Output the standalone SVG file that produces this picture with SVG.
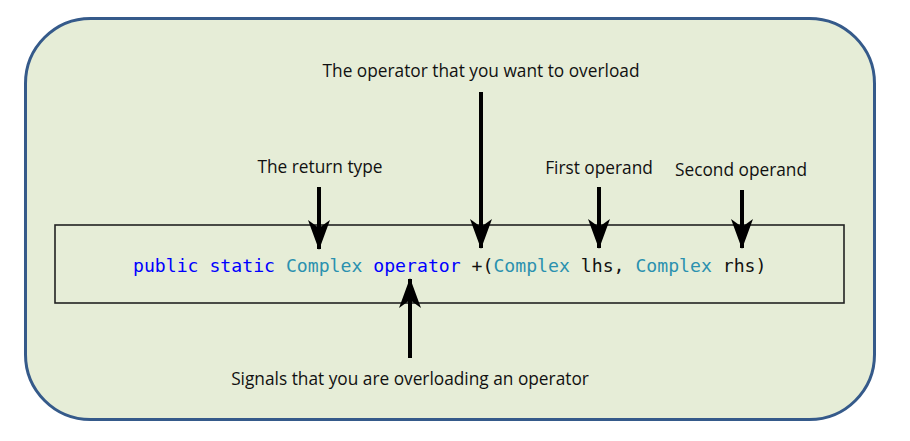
<svg xmlns="http://www.w3.org/2000/svg" width="910" height="441" viewBox="0 0 910 441">
<defs>
<style>
.lbl{font-family:"Open Sans","Liberation Sans",sans-serif;font-size:17.3px;fill:#111;text-anchor:middle}
.code{font-family:"DejaVu Sans Mono","Liberation Mono",monospace;font-size:18.15px;fill:#111}
.kw{fill:#0000ff}
.ty{fill:#2b91af}
.arr{stroke:#000;stroke-width:4;fill:none;marker-end:url(#head)}
</style>
<marker id="head" markerUnits="userSpaceOnUse" viewBox="0 0 30 22" refX="29" refY="11" markerWidth="30" markerHeight="22" orient="auto">
<path d="M0,0 L30,11 L0,22 L8,11 Z" fill="#000"/>
</marker>
</defs>
<rect x="0" y="0" width="910" height="441" fill="#fff"/>
<g id="frame">
<rect x="25.5" y="18.5" width="849" height="401" rx="65" ry="65" fill="#e6edd7" stroke="#355a8a" stroke-width="3"/>
</g>
<g id="code-box">
<rect x="55" y="225" width="789" height="78" fill="none" stroke="#222" stroke-width="1.6"/>
<text class="code" x="133" y="272"><tspan class="kw">public</tspan> <tspan class="kw">static</tspan> <tspan class="ty">Complex</tspan> <tspan class="kw">operator</tspan> +(<tspan class="ty">Complex</tspan> lhs, <tspan class="ty">Complex</tspan> rhs)</text>
</g>
<g id="label-return"><text class="lbl" x="320" y="173">The return type</text></g>
<g id="label-operator"><text class="lbl" x="481" y="77">The operator that you want to overload</text></g>
<g id="label-first"><text class="lbl" x="599" y="174">First operand</text></g>
<g id="label-second"><text class="lbl" x="741" y="176">Second operand</text></g>
<g id="label-signals"><text class="lbl" x="410" y="385">Signals that you are overloading an operator</text></g>
<g id="connectors">
<line class="arr" x1="319" y1="187" x2="319" y2="249"/>
<line class="arr" x1="481" y1="92" x2="481" y2="248"/>
<line class="arr" x1="599" y1="187" x2="599" y2="248"/>
<line class="arr" x1="742" y1="190" x2="742" y2="248"/>
<line class="arr" x1="410" y1="358" x2="410" y2="279"/>
</g>
</svg>
